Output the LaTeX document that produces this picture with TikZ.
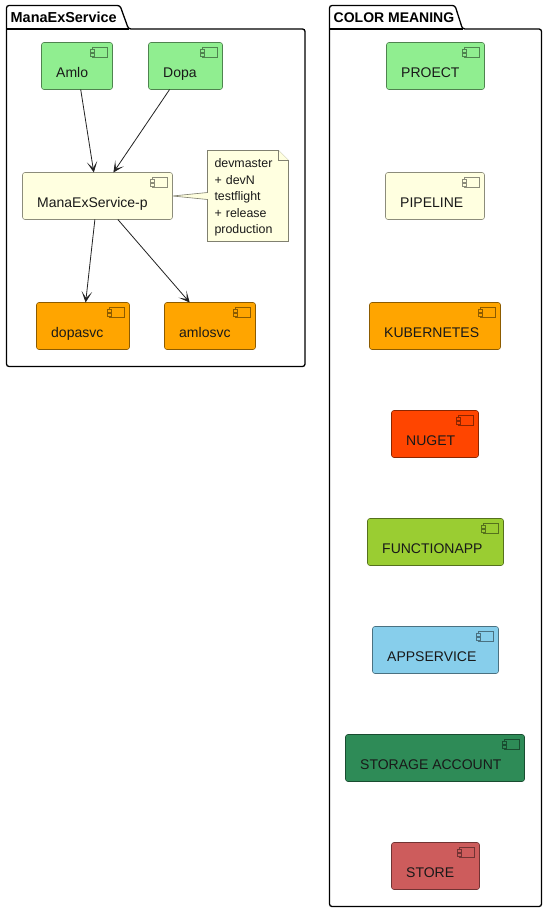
\documentclass[tikz,border=0pt]{standalone}
\usepackage{fontspec}
\setmainfont{Liberation Sans}
\usetikzlibrary{arrows.meta,calc}
\definecolor{cproject}{HTML}{90EE90}
\definecolor{cpipe}{HTML}{FFFFE0}
\definecolor{ckube}{HTML}{FFA500}
\definecolor{cnuget}{HTML}{FF4500}
\definecolor{cfunc}{HTML}{9ACD32}
\definecolor{capp}{HTML}{87CEEB}
\definecolor{cstorage}{HTML}{2E8B57}
\definecolor{cstore}{HTML}{CD5C5C}
\definecolor{arrowc}{HTML}{222222}
\tikzset{
  compbox/.style={draw=#1!55!black,fill=#1,line width=0.6pt,rounded corners=2.5pt,inner sep=0pt,outer sep=0pt},
  comptext/.style={anchor=base west,inner sep=0pt,text=black!90,font=\fontsize{14}{16}\selectfont},
  compicon/.style={draw=#1!55!black,line width=0.6pt,fill=#1},
  flow/.style={draw=arrowc,line width=0.8pt,-{Stealth[length=11pt,width=10.5pt,inset=6.5pt]}},
  pkg/.style={draw=black,line width=1.3pt,rounded corners=2.5pt,fill=white},
  pkgtitle/.style={anchor=base west,inner sep=0pt,font=\bfseries\fontsize{14}{16}\selectfont},
  notebox/.style={draw=black!50!cpipe,fill=cpipe,line width=0.6pt},
  notetext/.style={inner xsep=7pt,inner ysep=0pt,outer sep=0pt,align=left,text width=67pt,minimum height=91pt,text=black!90,font=\fontsize{12.4}{16.5}\selectfont}
}
\newcommand{\compnode}[7]{%
  \node[compbox=#6,minimum width={(#4-#2)*1pt},minimum height={(#5-#3)*1pt}] (#1) at ({(#2+#4)/2},{(#3+#5)/2}) {};
  \node[comptext] (#1-t) at (#2+14.5,#3+35) {#7};
  \draw[compicon=#6] (#4-20,#3+5) rectangle (#4-5,#3+15);
  \draw[compicon=#6] (#4-22,#3+7) rectangle (#4-18,#3+9.5);
  \draw[compicon=#6] (#4-22,#3+11) rectangle (#4-18,#3+13.5);
}
\begin{document}
\begin{tikzpicture}[x=1pt,y=-1pt]
\useasboundingbox (0,0) rectangle (547,912);
% packages
\draw[pkg] (6.5,29) -- (6.5,5.5) -- (120,5.5) -- (128.5,29) -- (305,29) -- (305,366.5) -- (6.5,366.5) -- cycle;
\draw[draw=black,line width=1.3pt] (6.5,29) -- (128.5,29);
\node[pkgtitle] (pa) at (10.5,22.7) {\fontsize{14.45}{16}\selectfont ManaExService};
\draw[pkg] (329.5,29) -- (329.5,5.5) -- (455,5.5) -- (462.5,29) -- (541.5,29) -- (541.5,906.5) -- (329.5,906.5) -- cycle;
\draw[draw=black,line width=1.3pt] (329.5,29) -- (462.5,29);
\node[pkgtitle] (pb) at (333.5,22.7) {COLOR MEANING};
% left components
\compnode{amlo}{41.5}{42.5}{112.5}{89.5}{cproject}{Amlo}
\compnode{dopa}{148.5}{42.5}{222.5}{89.5}{cproject}{Dopa}
\compnode{mes}{22.5}{172.5}{172.5}{219.5}{cpipe}{ManaExService-p}
\compnode{dsvc}{36.5}{302.5}{129.5}{349.5}{ckube}{dopasvc}
\compnode{asvc}{164.5}{302.5}{255.5}{349.5}{ckube}{amlosvc}
% note
\draw[notebox] (mes.east) -- (207.5,192.5) -- (207.5,150.5) -- (278.5,150.5) -- (288.5,160.5) -- (288.5,241.5) -- (207.5,241.5) -- (207.5,199.5) -- cycle;
\draw[notebox] (278.5,150.5) -- (278.5,160.5) -- (288.5,160.5);
\node[notetext] (note) at (248,197.3) {devmaster\\+ devN\\testflight\\+ release\\production};
% connectors
\draw[flow] (amlo) -- (mes);
\draw[flow] (dopa) -- (mes);
\draw[flow] (mes) -- (dsvc);
\draw[flow] (mes) -- (asvc);
% legend
\compnode{lproj}{386.5}{42.5}{484.5}{89.5}{cproject}{PROECT}
\compnode{lpipe}{385.5}{172.5}{484.5}{219.5}{cpipe}{PIPELINE}
\compnode{lkube}{369.5}{302.5}{500.5}{349.5}{ckube}{KUBERNETES}
\compnode{lnuget}{391.5}{410.5}{478.5}{457.5}{cnuget}{NUGET}
\compnode{lfunc}{367.5}{518.5}{503.5}{565.5}{cfunc}{FUNCTIONAPP}
\compnode{lapp}{372.5}{626.5}{498.5}{673.5}{capp}{APPSERVICE}
\compnode{lstor}{345.5}{734.5}{524.5}{781.5}{cstorage}{STORAGE ACCOUNT}
\compnode{lstore}{391.5}{842.5}{479.5}{889.5}{cstore}{STORE}
\end{tikzpicture}
\end{document}
